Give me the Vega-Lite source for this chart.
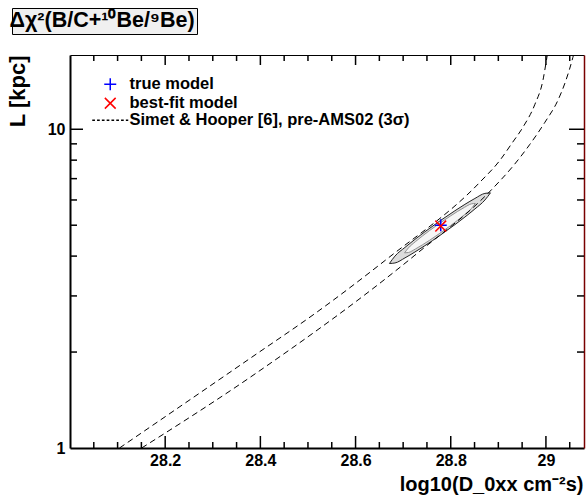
{
  "$schema": "https://vega.github.io/schema/vega-lite/v6.json",
  "width": 514,
  "height": 393,
  "autosize": {"type": "none"},
  "padding": {"left": 70, "top": 55, "right": 4, "bottom": 49},
  "background": "white",
  "datasets": {
    "contours": [
      {"level": "outer", "x": 28.6712, "lo": 3.792, "hi": 3.792},
      {"level": "outer", "x": 28.6828, "lo": 3.806, "hi": 4.000},
      {"level": "outer", "x": 28.7038, "lo": 3.949, "hi": 4.259},
      {"level": "outer", "x": 28.7248, "lo": 4.121, "hi": 4.514},
      {"level": "outer", "x": 28.7458, "lo": 4.314, "hi": 4.770},
      {"level": "outer", "x": 28.7773, "lo": 4.644, "hi": 5.159},
      {"level": "outer", "x": 28.8088, "lo": 5.021, "hi": 5.551},
      {"level": "outer", "x": 28.8298, "lo": 5.305, "hi": 5.813},
      {"level": "outer", "x": 28.8508, "lo": 5.623, "hi": 6.066},
      {"level": "outer", "x": 28.8718, "lo": 5.998, "hi": 6.292},
      {"level": "outer", "x": 28.8834, "lo": 6.316, "hi": 6.316},
      {"level": "inner", "x": 28.7030, "lo": 4.094, "hi": 4.094},
      {"level": "inner", "x": 28.7111, "lo": 4.105, "hi": 4.244},
      {"level": "inner", "x": 28.7258, "lo": 4.211, "hi": 4.441},
      {"level": "inner", "x": 28.7405, "lo": 4.339, "hi": 4.626},
      {"level": "inner", "x": 28.7552, "lo": 4.480, "hi": 4.808},
      {"level": "inner", "x": 28.7773, "lo": 4.718, "hi": 5.077},
      {"level": "inner", "x": 28.7994, "lo": 4.983, "hi": 5.345},
      {"level": "inner", "x": 28.8141, "lo": 5.177, "hi": 5.521},
      {"level": "inner", "x": 28.8288, "lo": 5.396, "hi": 5.689},
      {"level": "inner", "x": 28.8435, "lo": 5.644, "hi": 5.834},
      {"level": "inner", "x": 28.8516, "lo": 5.852, "hi": 5.852}
    ],
    "curves": [
      {"curve": "upper", "band": "3σ", "x": 28.104, "y": 1.0},
      {"curve": "upper", "band": "3σ", "x": 28.3824, "y": 1.929},
      {"curve": "upper", "band": "3σ", "x": 28.5189, "y": 2.669},
      {"curve": "upper", "band": "3σ", "x": 28.6681, "y": 3.94},
      {"curve": "upper", "band": "3σ", "x": 28.8613, "y": 6.823},
      {"curve": "upper", "band": "3σ", "x": 28.9034, "y": 7.992},
      {"curve": "upper", "band": "3σ", "x": 28.9286, "y": 9.04},
      {"curve": "upper", "band": "3σ", "x": 28.9517, "y": 10.15},
      {"curve": "upper", "band": "3σ", "x": 28.9769, "y": 11.98},
      {"curve": "upper", "band": "3σ", "x": 28.9937, "y": 14.24},
      {"curve": "upper", "band": "3σ", "x": 29.0021, "y": 16.82},
      {"curve": "upper", "band": "3σ", "x": 29.0063, "y": 18.34},
      {"curve": "lower", "band": "3σ", "x": 28.1506, "y": 1.0},
      {"curve": "lower", "band": "3σ", "x": 28.3824, "y": 1.682},
      {"curve": "lower", "band": "3σ", "x": 28.7248, "y": 4.027},
      {"curve": "lower", "band": "3σ", "x": 28.8887, "y": 6.531},
      {"curve": "lower", "band": "3σ", "x": 28.9307, "y": 7.656},
      {"curve": "lower", "band": "3σ", "x": 28.9664, "y": 8.974},
      {"curve": "lower", "band": "3σ", "x": 28.9979, "y": 10.52},
      {"curve": "lower", "band": "3σ", "x": 29.0252, "y": 12.33},
      {"curve": "lower", "band": "3σ", "x": 29.042, "y": 14.24},
      {"curve": "lower", "band": "3σ", "x": 29.0567, "y": 16.82},
      {"curve": "lower", "band": "3σ", "x": 29.063, "y": 18.34}
    ],
    "models": [
      {"series": "true model", "x": 28.779, "y": 5.0},
      {"series": "best-fit model", "x": 28.779, "y": 4.97}
    ],
    "xticks": [
      {"v": 28.05, "kind": "minor"}, {"v": 28.1, "kind": "minor"}, {"v": 28.15, "kind": "minor"},
      {"v": 28.2, "kind": "major"},
      {"v": 28.25, "kind": "minor"}, {"v": 28.3, "kind": "minor"}, {"v": 28.35, "kind": "minor"},
      {"v": 28.4, "kind": "major"},
      {"v": 28.45, "kind": "minor"}, {"v": 28.5, "kind": "minor"}, {"v": 28.55, "kind": "minor"},
      {"v": 28.6, "kind": "major"},
      {"v": 28.65, "kind": "minor"}, {"v": 28.7, "kind": "minor"}, {"v": 28.75, "kind": "minor"},
      {"v": 28.8, "kind": "major"},
      {"v": 28.85, "kind": "minor"}, {"v": 28.9, "kind": "minor"}, {"v": 28.95, "kind": "minor"},
      {"v": 29.0, "kind": "major"},
      {"v": 29.05, "kind": "minor"}
    ],
    "yticks": [
      {"v": 2, "kind": "minor"}, {"v": 3, "kind": "minor"}, {"v": 4, "kind": "minor"},
      {"v": 5, "kind": "minor"}, {"v": 6, "kind": "minor"}, {"v": 7, "kind": "minor"},
      {"v": 8, "kind": "minor"}, {"v": 9, "kind": "minor"}, {"v": 10, "kind": "major"}
    ]
  },
  "resolve": {"axis": {"x": "independent", "y": "independent"}},
  "layer": [
    {
      "data": {"name": "contours"},
      "transform": [{"filter": "datum.level === 'outer'"}],
      "mark": {"type": "area", "fill": "#dcdcdc", "stroke": "#222222", "strokeWidth": 1, "interpolate": "monotone"},
      "encoding": {
        "x": {"field": "x", "type": "quantitative", "scale": {"domain": [28.0, 29.08], "nice": false, "zero": false},
          "axis": {"orient": "bottom", "values": [28.2, 28.4, 28.6, 28.8, 29], "format": "~g", "ticks": false,
            "domain": true, "domainColor": "black", "domainWidth": 2, "labelFontSize": 16, "labelBaseline": "alphabetic",
            "labelPadding": 17, "labelFlush": false, "labelOverlap": false,
            "title": "log10(D_0xx cm⁻²s)", "titleFontSize": 20, "titleAlign": "right", "titleAnchor": "end",
            "titleX": 513, "titleY": 42, "titleBaseline": "alphabetic"}},
        "y": {"field": "hi", "type": "quantitative", "scale": {"type": "log", "domain": [1, 17.1], "nice": false, "zero": false},
          "axis": {"orient": "left", "values": [1, 10], "format": "d", "ticks": false, "domain": true, "domainColor": "black",
            "domainWidth": 2, "labelFontSize": 16, "labelPadding": 5, "labelOverlap": false,
            "title": "L [kpc]", "titleFontSize": 22, "titleAnchor": "end", "titlePadding": 18}},
        "y2": {"field": "lo"}
      }
    },
    {
      "data": {"name": "contours"},
      "transform": [{"filter": "datum.level === 'inner'"}],
      "mark": {"type": "area", "fill": "#f6f6f6", "stroke": "#909090", "strokeWidth": 1, "interpolate": "monotone"},
      "encoding": {
        "x": {"field": "x", "type": "quantitative", "scale": {"domain": [28.0, 29.08], "nice": false, "zero": false}, "axis": null},
        "y": {"field": "hi", "type": "quantitative", "scale": {"type": "log", "domain": [1, 17.1], "nice": false, "zero": false}, "axis": null},
        "y2": {"field": "lo"}
      }
    },
    {
      "data": {"name": "curves"},
      "mark": {"type": "line", "color": "black", "strokeWidth": 1, "clip": true, "interpolate": "monotone"},
      "encoding": {
        "x": {"field": "x", "type": "quantitative", "scale": {"domain": [28.0, 29.08], "nice": false, "zero": false},
          "axis": {"orient": "top", "labels": false, "ticks": false, "title": null,
            "domain": true, "domainColor": "black", "domainWidth": 1}},
        "y": {"field": "y", "type": "quantitative", "scale": {"type": "log", "domain": [1, 17.1], "nice": false, "zero": false},
          "axis": {"orient": "right", "labels": false, "ticks": false, "title": null,
            "domain": true, "domainColor": "#7a0000", "domainWidth": 1.5}},
        "detail": {"field": "curve", "type": "nominal"},
        "strokeDash": {"field": "band", "type": "nominal",
          "scale": {"domain": ["3σ"], "range": [[6, 4]]},
          "legend": {"orient": "none", "legendX": -58, "legendY": -47, "title": null,
            "labelExpr": "'Δχ²(B/C+¹⁰Be/⁹Be)'", "labelFontSize": 21.5, "labelLimit": 500,
            "symbolSize": 0, "symbolOpacity": 0, "symbolStrokeWidth": 0, "labelOffset": -26, "padding": 2,
            "fillColor": "#f0f0f0", "strokeColor": "black"}}
      }
    },
    {
      "data": {"name": "xticks"},
      "transform": [{"filter": "datum.kind === 'major'"}],
      "mark": {"type": "tick", "orient": "vertical", "color": "black", "thickness": 1.5, "size": 12, "yOffset": -6, "opacity": 1},
      "encoding": {
        "x": {"field": "v", "type": "quantitative", "scale": {"domain": [28.0, 29.08], "nice": false, "zero": false}, "axis": null},
        "y": {"datum": 1, "type": "quantitative", "scale": {"type": "log", "domain": [1, 17.1], "nice": false, "zero": false}, "axis": null}
      }
    },
    {
      "data": {"name": "xticks"},
      "transform": [{"filter": "datum.kind === 'minor'"}],
      "mark": {"type": "tick", "orient": "vertical", "color": "black", "thickness": 1.5, "size": 6, "yOffset": -3, "opacity": 1},
      "encoding": {
        "x": {"field": "v", "type": "quantitative", "scale": {"domain": [28.0, 29.08], "nice": false, "zero": false}, "axis": null},
        "y": {"datum": 1, "type": "quantitative", "scale": {"type": "log", "domain": [1, 17.1], "nice": false, "zero": false}, "axis": null}
      }
    },
    {
      "data": {"name": "xticks"},
      "transform": [{"filter": "datum.kind === 'major'"}],
      "mark": {"type": "tick", "orient": "vertical", "color": "black", "thickness": 1.5, "size": 10, "yOffset": 5, "opacity": 1},
      "encoding": {
        "x": {"field": "v", "type": "quantitative", "scale": {"domain": [28.0, 29.08], "nice": false, "zero": false}, "axis": null},
        "y": {"datum": 17.1, "type": "quantitative", "scale": {"type": "log", "domain": [1, 17.1], "nice": false, "zero": false}, "axis": null}
      }
    },
    {
      "data": {"name": "xticks"},
      "transform": [{"filter": "datum.kind === 'minor'"}],
      "mark": {"type": "tick", "orient": "vertical", "color": "black", "thickness": 1.5, "size": 6, "yOffset": 3, "opacity": 1},
      "encoding": {
        "x": {"field": "v", "type": "quantitative", "scale": {"domain": [28.0, 29.08], "nice": false, "zero": false}, "axis": null},
        "y": {"datum": 17.1, "type": "quantitative", "scale": {"type": "log", "domain": [1, 17.1], "nice": false, "zero": false}, "axis": null}
      }
    },
    {
      "data": {"name": "yticks"},
      "transform": [{"filter": "datum.kind === 'major'"}],
      "mark": {"type": "tick", "orient": "horizontal", "color": "black", "thickness": 1.5, "size": 13, "xOffset": 6.5, "opacity": 1},
      "encoding": {
        "x": {"datum": 28.0, "type": "quantitative", "scale": {"domain": [28.0, 29.08], "nice": false, "zero": false}, "axis": null},
        "y": {"field": "v", "type": "quantitative", "scale": {"type": "log", "domain": [1, 17.1], "nice": false, "zero": false}, "axis": null}
      }
    },
    {
      "data": {"name": "yticks"},
      "transform": [{"filter": "datum.kind === 'minor'"}],
      "mark": {"type": "tick", "orient": "horizontal", "color": "black", "thickness": 1.5, "size": 7, "xOffset": 3.5, "opacity": 1},
      "encoding": {
        "x": {"datum": 28.0, "type": "quantitative", "scale": {"domain": [28.0, 29.08], "nice": false, "zero": false}, "axis": null},
        "y": {"field": "v", "type": "quantitative", "scale": {"type": "log", "domain": [1, 17.1], "nice": false, "zero": false}, "axis": null}
      }
    },
    {
      "data": {"name": "yticks"},
      "transform": [{"filter": "datum.kind === 'major'"}],
      "mark": {"type": "tick", "orient": "horizontal", "color": "black", "thickness": 1.5, "size": 15, "xOffset": -7.5, "opacity": 1},
      "encoding": {
        "x": {"datum": 29.08, "type": "quantitative", "scale": {"domain": [28.0, 29.08], "nice": false, "zero": false}, "axis": null},
        "y": {"field": "v", "type": "quantitative", "scale": {"type": "log", "domain": [1, 17.1], "nice": false, "zero": false}, "axis": null}
      }
    },
    {
      "data": {"name": "yticks"},
      "transform": [{"filter": "datum.kind === 'minor'"}],
      "mark": {"type": "tick", "orient": "horizontal", "color": "black", "thickness": 1.5, "size": 7, "xOffset": -3.5, "opacity": 1},
      "encoding": {
        "x": {"datum": 29.08, "type": "quantitative", "scale": {"domain": [28.0, 29.08], "nice": false, "zero": false}, "axis": null},
        "y": {"field": "v", "type": "quantitative", "scale": {"type": "log", "domain": [1, 17.1], "nice": false, "zero": false}, "axis": null}
      }
    },
    {
      "data": {"name": "models"},
      "transform": [{"filter": "datum.series === 'true model'"}],
      "mark": {"type": "point", "filled": false, "size": 144, "strokeWidth": 1.5, "opacity": 1},
      "encoding": {
        "x": {"field": "x", "type": "quantitative", "scale": {"domain": [28.0, 29.08], "nice": false, "zero": false}, "axis": null},
        "y": {"field": "y", "type": "quantitative", "scale": {"type": "log", "domain": [1, 17.1], "nice": false, "zero": false}, "axis": null},
        "color": {"field": "series", "type": "nominal",
          "scale": {"domain": ["true model", "best-fit model", "Simet & Hooper [6], pre-AMS02 (3σ)"], "range": ["#0000ff", "#ff0000", "#000000"]},
          "legend": {"orient": "none", "legendX": 32, "legendY": 21, "title": null, "labelFontSize": 16.5, "labelLimit": 500,
            "symbolSize": 144, "symbolStrokeWidth": 1.5, "labelOffset": 11, "rowPadding": 0, "padding": 0}},
        "shape": {"field": "series", "type": "nominal",
          "scale": {"domain": ["true model", "best-fit model", "Simet & Hooper [6], pre-AMS02 (3σ)"],
            "range": ["M-1,0L1,0M0,-1L0,1", "M-0.9,-0.9L0.9,0.9M-0.9,0.9L0.9,-0.9", "M-3,0L-2.55,0M-2.2,0L-1.75,0M-1.4,0L-0.95,0M-0.6,0L-0.15,0M0.2,0L0.65,0M1,0L1.45,0M1.8,0L2.25,0M2.6,0L3,0"]},
          "legend": {"orient": "none", "legendX": 32, "legendY": 21, "title": null, "labelFontSize": 16.5, "labelLimit": 500,
            "symbolSize": 144, "symbolStrokeWidth": 1.5, "labelOffset": 11, "rowPadding": 0, "padding": 0}}
      }
    },
    {
      "data": {"name": "models"},
      "transform": [{"filter": "datum.series === 'best-fit model'"}],
      "mark": {"type": "point", "filled": false, "size": 144, "strokeWidth": 1.5, "opacity": 1},
      "encoding": {
        "x": {"field": "x", "type": "quantitative", "scale": {"domain": [28.0, 29.08], "nice": false, "zero": false}, "axis": null},
        "y": {"field": "y", "type": "quantitative", "scale": {"type": "log", "domain": [1, 17.1], "nice": false, "zero": false}, "axis": null},
        "color": {"field": "series", "type": "nominal",
          "scale": {"domain": ["true model", "best-fit model", "Simet & Hooper [6], pre-AMS02 (3σ)"], "range": ["#0000ff", "#ff0000", "#000000"]},
          "legend": {"orient": "none", "legendX": 32, "legendY": 21, "title": null, "labelFontSize": 16.5, "labelLimit": 500,
            "symbolSize": 144, "symbolStrokeWidth": 1.5, "labelOffset": 11, "rowPadding": 0, "padding": 0}},
        "shape": {"field": "series", "type": "nominal",
          "scale": {"domain": ["true model", "best-fit model", "Simet & Hooper [6], pre-AMS02 (3σ)"],
            "range": ["M-1,0L1,0M0,-1L0,1", "M-0.9,-0.9L0.9,0.9M-0.9,0.9L0.9,-0.9", "M-3,0L-2.55,0M-2.2,0L-1.75,0M-1.4,0L-0.95,0M-0.6,0L-0.15,0M0.2,0L0.65,0M1,0L1.45,0M1.8,0L2.25,0M2.6,0L3,0"]},
          "legend": {"orient": "none", "legendX": 32, "legendY": 21, "title": null, "labelFontSize": 16.5, "labelLimit": 500,
            "symbolSize": 144, "symbolStrokeWidth": 1.5, "labelOffset": 11, "rowPadding": 0, "padding": 0}}
      }
    }
  ],
  "config": {
    "view": {"stroke": null},
    "font": "Liberation Sans",
    "axis": {"labelFont": "Liberation Sans", "labelFontWeight": "bold", "labelColor": "black",
      "titleFont": "Liberation Sans", "titleFontWeight": "bold", "titleColor": "black",
      "tickColor": "black", "grid": false},
    "legend": {"labelFont": "Liberation Sans", "labelFontWeight": "bold", "labelColor": "black"}
  }
}
